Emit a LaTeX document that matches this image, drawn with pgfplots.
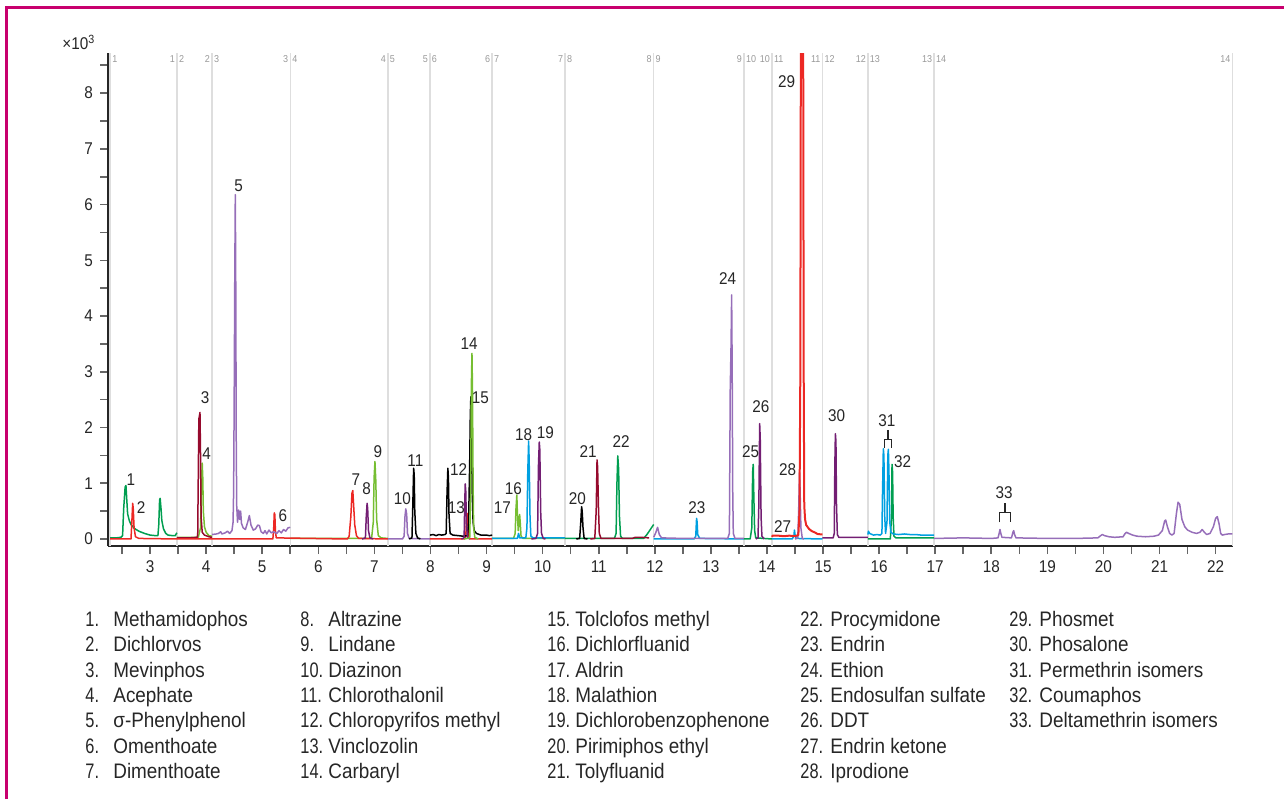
\documentclass[border=0pt]{standalone}
\usepackage{fontspec}
\setmainfont{Liberation Sans}[FakeStretch=0.9]
\newfontfamily\numfont{Liberation Sans}[FakeStretch=0.78]
\usepackage{pgfplots}
\pgfplotsset{compat=1.18}

\definecolor{cgreen}{RGB}{0,158,80}
\definecolor{clgreen}{RGB}{118,190,50}
\definecolor{cred}{RGB}{236,40,36}
\definecolor{cdred}{RGB}{150,10,45}
\definecolor{clpurple}{RGB}{150,110,185}
\definecolor{cdpurple}{RGB}{115,30,115}
\definecolor{ccyan}{RGB}{0,160,225}
\definecolor{cframe}{RGB}{200,0,110}

\begin{document}
\begin{tikzpicture}
\useasboundingbox (0,0) rectangle (642pt,-399.5pt);

\begin{axis}[
  at={(54pt,-273pt)}, anchor=south west,
  scale only axis, width=562.5pt, height=246.5pt,
  xmin=2.25, xmax=22.31, ymin=-0.126, ymax=8.72,
  axis x line*=bottom, axis y line*=left,
  axis line style={line width=0.9pt, black!85, -},
  xtick={3,...,22}, minor xtick={2.5,3.5,...,21.5},
  ytick={0,...,8}, minor ytick={0.5,1.5,...,8.5},
  tick align=outside, major tick length=4pt, minor tick length=4pt,
  tick style={black!60, line width=0.8pt},
  tick label style={font=\fontsize{8.5}{10}\selectfont, text=black!85},
  /pgf/number format/assume math mode=true,
  every axis plot/.append style={line width=0.75pt, line join=round, no marks},
  clip=true,
]
% segment boundaries
\foreach \b in {2.29,3.48,4.105,5.50,7.24,7.99,9.10,10.40,11.98,13.59,14.09,14.99,15.80,16.98,22.30}
  {\edef\tmp{\noexpand\draw[black!13, line width=0.75pt] (axis cs:\b,-0.126) -- (axis cs:\b,8.72);}\tmp}

% segment 1
\addplot[cgreen] coordinates {(2.29,0.02)(2.40,0.02)(2.48,0.03)(2.51,0.06)(2.53,0.55)(2.555,0.93)(2.57,0.96)(2.585,0.70)(2.60,0.45)(2.63,0.33)(2.66,0.26)(2.72,0.19)(2.80,0.14)(2.90,0.10)(3.00,0.07)(3.10,0.06)(3.14,0.06)(3.155,0.25)(3.17,0.70)(3.18,0.73)(3.195,0.55)(3.21,0.33)(3.24,0.18)(3.28,0.10)(3.32,0.07)(3.40,0.06)(3.45,0.06)(3.47,0.10)(3.48,0.11)};
% segment 2
\addplot[clgreen] coordinates {(3.48,0.03)(3.60,0.03)(3.70,0.03)(3.86,0.03)(3.90,0.20)(3.915,0.90)(3.93,1.36)(3.94,1.10)(3.95,0.50)(3.97,0.22)(4.00,0.12)(4.05,0.06)(4.105,0.05)};
\addplot[cdred] coordinates {(3.48,0.02)(3.70,0.02)(3.84,0.03)(3.85,0.08)(3.855,0.65)(3.87,2.15)(3.89,2.27)(3.90,1.50)(3.91,0.40)(3.93,0.12)(3.97,0.07)(4.05,0.04)(4.105,0.03)};
% segment 4 light green
\addplot[clgreen] coordinates {(5.50,0.01)(6.00,0.01)(6.50,0.01)(6.95,0.01)(6.98,0.30)(6.995,1.10)(7.01,1.39)(7.025,1.05)(7.04,0.35)(7.07,0.06)(7.12,0.02)(7.24,0.01)};
% red baseline segments 1-4
\addplot[cred] coordinates {(2.29,0)(2.66,0)(2.675,0.30)(2.69,0.64)(2.70,0.55)(2.715,0.20)(2.74,0.04)(2.80,0.01)(3.50,0)(5.19,0)(5.205,0.20)(5.215,0.47)(5.225,0.44)(5.235,0.15)(5.25,0.02)(6.52,0)(6.55,0.05)(6.58,0.40)(6.60,0.82)(6.615,0.87)(6.63,0.60)(6.65,0.25)(6.68,0.06)(6.72,0.01)(7.24,0)};
% segment 3
\addplot[clpurple] coordinates {(4.105,0.08)(4.18,0.09)(4.22,0.10)(4.26,0.13)(4.28,0.09)(4.34,0.11)(4.38,0.14)(4.42,0.10)(4.46,0.15)(4.48,0.30)(4.49,0.85)(4.50,2.50)(4.51,4.60)(4.52,6.18)(4.53,4.20)(4.535,2.00)(4.545,0.60)(4.56,0.30)(4.58,0.52)(4.60,0.35)(4.615,0.50)(4.63,0.28)(4.66,0.20)(4.70,0.17)(4.74,0.30)(4.77,0.42)(4.80,0.25)(4.84,0.16)(4.88,0.18)(4.92,0.25)(4.95,0.24)(4.98,0.13)(5.02,0.10)(5.05,0.15)(5.08,0.09)(5.12,0.16)(5.16,0.11)(5.20,0.13)(5.26,0.10)(5.30,0.15)(5.34,0.11)(5.38,0.17)(5.42,0.14)(5.46,0.20)(5.50,0.21)};
% segment 4 dark purple
\addplot[cdpurple] coordinates {(6.78,0)(6.84,0.02)(6.855,0.40)(6.87,0.64)(6.88,0.55)(6.895,0.15)(6.92,0.02)(6.98,0)};
% segment 5
\addplot[clpurple] coordinates {(7.24,0)(7.50,0)(7.53,0.05)(7.545,0.40)(7.56,0.54)(7.575,0.45)(7.59,0.10)(7.62,0.01)(7.99,0)};
\addplot[black] coordinates {(7.62,0)(7.67,0.02)(7.685,0.60)(7.70,1.27)(7.71,1.15)(7.72,0.50)(7.74,0.10)(7.77,0.02)(7.82,0)};
% segment 6
\addplot[cred] coordinates {(7.99,0)(8.60,0)(8.63,0.05)(8.645,0.40)(8.655,0.46)(8.665,0.35)(8.68,0.05)(8.70,0)(9.10,0)};
\addplot[black] coordinates {(7.99,0.07)(8.05,0.08)(8.10,0.06)(8.15,0.08)(8.20,0.07)(8.26,0.08)(8.28,0.10)(8.295,0.80)(8.31,1.27)(8.32,1.10)(8.33,0.45)(8.35,0.10)(8.40,0.07)(8.50,0.06)(8.58,0.05)(8.66,0.06)(8.68,0.30)(8.70,1.40)(8.71,2.20)(8.72,2.55)(8.73,2.00)(8.745,0.80)(8.76,0.30)(8.78,0.15)(8.82,0.10)(8.90,0.07)(9.00,0.07)(9.05,0.06)(9.10,0.07)};
\addplot[cdpurple] coordinates {(8.55,0)(8.60,0.02)(8.61,0.60)(8.62,0.99)(8.63,0.85)(8.64,0.30)(8.66,0.03)(8.70,0)};
\addplot[clgreen] coordinates {(8.60,0)(8.70,0.02)(8.715,0.80)(8.73,2.80)(8.74,3.33)(8.75,2.60)(8.76,1.00)(8.77,0.20)(8.79,0.03)(8.85,0)};
% segment 7
\addplot[clgreen] coordinates {(9.10,0.01)(9.48,0.01)(9.51,0.10)(9.525,0.55)(9.54,0.79)(9.55,0.45)(9.565,0.15)(9.58,0.35)(9.59,0.44)(9.60,0.30)(9.615,0.05)(9.65,0.01)(10.40,0.01)};
\addplot[ccyan] coordinates {(9.10,0.01)(9.55,0.01)(9.57,0.10)(9.59,0.02)(9.70,0.02)(9.72,0.20)(9.735,1.20)(9.75,1.76)(9.76,1.40)(9.775,0.40)(9.79,0.05)(9.83,0.02)(10.40,0.02)};
\addplot[cdpurple] coordinates {(9.80,0)(9.88,0.01)(9.91,0.10)(9.925,1.30)(9.94,1.74)(9.95,1.60)(9.965,0.50)(9.98,0.10)(10.01,0.01)(10.05,0)};
% segment 8
\addplot[cgreen] coordinates {(10.40,0.01)(11.28,0.01)(11.31,0.10)(11.325,1.00)(11.34,1.49)(11.355,1.25)(11.37,0.40)(11.39,0.05)(11.42,0.01)(11.80,0.01)(11.86,0.08)(11.92,0.17)(11.98,0.26)};
\addplot[black] coordinates {(10.60,0)(10.66,0.01)(10.68,0.30)(10.695,0.58)(10.705,0.50)(10.72,0.20)(10.74,0.01)(10.80,0)};
\addplot[cdred] coordinates {(10.85,0)(10.93,0.01)(10.955,0.50)(10.97,1.42)(10.98,1.30)(10.995,0.60)(11.01,0.10)(11.04,0.01)(11.60,0.01)(11.65,0.03)(11.75,0.03)(11.90,0.02)};
% segment 9
\addplot[ccyan] coordinates {(11.98,0)(12.70,0)(12.73,0.05)(12.745,0.37)(12.755,0.30)(12.765,0.08)(12.80,0.01)(13.59,0)};
\addplot[clpurple] coordinates {(11.98,0.03)(12.02,0.12)(12.05,0.21)(12.08,0.08)(12.12,0.02)(12.50,0.01)(13.30,0.01)(13.33,0.10)(13.345,2.67)(13.36,3.50)(13.37,4.38)(13.38,3.00)(13.39,0.80)(13.40,0.10)(13.43,0.01)(13.59,0.01)};
% segment 10
\addplot[cgreen] coordinates {(13.59,0)(13.70,0)(13.73,0.20)(13.745,1.20)(13.755,1.34)(13.765,0.80)(13.78,0.15)(13.80,0.02)(14.09,0)};
\addplot[cdpurple] coordinates {(13.80,0)(13.84,0.02)(13.855,0.60)(13.87,2.07)(13.88,1.80)(13.895,0.40)(13.91,0.05)(13.95,0)};
% segment 11
\addplot[ccyan] coordinates {(14.09,0)(14.45,0)(14.48,0.05)(14.49,0.16)(14.50,0.08)(14.52,0.01)(14.99,0)};
\addplot[clpurple] coordinates {(14.50,0)(14.55,0.02)(14.565,0.50)(14.58,1.19)(14.59,0.90)(14.605,0.20)(14.63,0.01)(14.66,0)};
\addplot[cred, line width=1pt] coordinates {(14.09,0.04)(14.10,0.06)(14.20,0.06)(14.30,0.05)(14.40,0.06)(14.50,0.05)(14.56,0.07)(14.58,0.50)(14.595,3.00)(14.605,9.50)(14.625,10.50)(14.645,9.50)(14.655,3.00)(14.665,0.60)(14.68,0.35)(14.70,0.25)(14.75,0.18)(14.80,0.14)(14.85,0.12)(14.90,0.09)(14.99,0.08)};
% segment 12
\addplot[cdpurple] coordinates {(14.99,0.02)(15.10,0.02)(15.18,0.02)(15.20,0.10)(15.21,1.30)(15.22,1.89)(15.23,1.75)(15.24,0.60)(15.255,0.08)(15.28,0.03)(15.50,0.03)(15.80,0.03)};
% segment 13
\addplot[cgreen] coordinates {(15.80,0)(16.20,0)(16.22,0.40)(16.23,1.34)(16.24,1.20)(16.25,0.40)(16.265,0.05)(16.30,0.02)(16.98,0.02)};
\addplot[ccyan] coordinates {(15.80,0.08)(15.81,0.14)(15.83,0.10)(15.90,0.07)(15.96,0.08)(16.02,0.07)(16.05,0.10)(16.06,0.80)(16.075,1.62)(16.085,1.50)(16.10,0.40)(16.115,0.10)(16.14,0.30)(16.155,1.50)(16.165,1.61)(16.175,1.20)(16.19,0.30)(16.21,0.12)(16.25,0.09)(16.35,0.08)(16.45,0.09)(16.55,0.08)(16.65,0.08)(16.75,0.07)(16.85,0.07)(16.98,0.07)};
% segment 14
\addplot[clpurple] coordinates {(16.98,0.01)(17.50,0.02)(18.00,0.01)(18.12,0.02)(18.14,0.10)(18.155,0.17)(18.17,0.10)(18.19,0.03)(18.36,0.02)(18.385,0.12)(18.40,0.15)(18.415,0.08)(18.44,0.02)(19.00,0.01)(19.50,0.01)(19.90,0.02)(19.95,0.06)(19.98,0.08)(20.02,0.06)(20.10,0.04)(20.20,0.03)(20.35,0.04)(20.38,0.09)(20.41,0.12)(20.45,0.10)(20.52,0.07)(20.60,0.05)(20.75,0.04)(20.90,0.05)(20.98,0.07)(21.05,0.15)(21.09,0.32)(21.11,0.34)(21.14,0.22)(21.18,0.10)(21.22,0.07)(21.26,0.10)(21.30,0.45)(21.33,0.66)(21.36,0.62)(21.40,0.35)(21.45,0.22)(21.50,0.16)(21.58,0.12)(21.66,0.10)(21.72,0.12)(21.76,0.17)(21.80,0.12)(21.84,0.08)(21.90,0.10)(21.96,0.22)(22.00,0.37)(22.03,0.40)(22.06,0.28)(22.09,0.10)(22.12,0.07)(22.16,0.08)(22.22,0.09)(22.30,0.09)};

% segment numbers along the top
\begin{scope}[every node/.style={font=\fontsize{5}{6}\selectfont, text=black!40, inner sep=0pt}]
\node[anchor=west] at (axis cs:2.29,8.61) {\,1};
\foreach \b/\l/\r in {3.48/1/2,4.105/2/3,5.50/3/4,7.24/4/5,7.99/5/6,9.10/6/7,10.40/7/8,11.98/8/9,13.59/9/10,14.09/10/11,14.99/11/12,15.80/12/13,16.98/13/14}
  {\edef\tmp{\noexpand\node[anchor=east] at (axis cs:\b,8.61) {\l\noexpand\,};
             \noexpand\node[anchor=west] at (axis cs:\b,8.61) {\noexpand\,\r};}\tmp}
\node[anchor=east] at (axis cs:22.30,8.61) {14\,};
\end{scope}

% peak labels
\begin{scope}[every node/.style={font=\fontsize{8.5}{10}\selectfont, text=black!85, inner sep=0pt}]
\node at (axis cs:2.66,1.06) {1};
\node at (axis cs:2.84,0.57) {2};
\node at (axis cs:3.98,2.54) {3};
\node at (axis cs:4.01,1.54) {4};
\node at (axis cs:4.58,6.33) {5};
\node at (axis cs:5.37,0.41) {6};
\node at (axis cs:6.67,1.06) {7};
\node at (axis cs:6.86,0.90) {8};
\node at (axis cs:7.06,1.56) {9};
\node at (axis cs:7.50,0.73) {10};
\node at (axis cs:7.73,1.40) {11};
\node at (axis cs:8.50,1.24) {12};
\node at (axis cs:8.46,0.56) {13};
\node at (axis cs:8.69,3.51) {14};
\node at (axis cs:8.89,2.54) {15};
\node at (axis cs:9.48,0.91) {16};
\node at (axis cs:9.28,0.56) {17};
\node at (axis cs:9.66,1.88) {18};
\node at (axis cs:10.05,1.90) {19};
\node at (axis cs:10.62,0.73) {20};
\node at (axis cs:10.81,1.56) {21};
\node at (axis cs:11.40,1.74) {22};
\node at (axis cs:12.75,0.56) {23};
\node at (axis cs:13.30,4.68) {24};
\node at (axis cs:13.71,1.56) {25};
\node at (axis cs:13.89,2.38) {26};
\node at (axis cs:14.28,0.23) {27};
\node at (axis cs:14.37,1.24) {28};
\node at (axis cs:14.35,8.21) {29};
\node at (axis cs:15.24,2.22) {30};
\node at (axis cs:16.14,2.13) {31};
\node at (axis cs:16.42,1.38) {32};
\node at (axis cs:18.23,0.83) {33};
\end{scope}
% brackets for isomer groups
\draw[black!85, line width=0.6pt] (axis cs:16.10,1.63) -- (axis cs:16.10,1.79) -- (axis cs:16.22,1.79) -- (axis cs:16.22,1.63);
\draw[black!85, line width=0.9pt] (axis cs:16.16,1.79) -- (axis cs:16.16,1.95);
\draw[black!85, line width=0.6pt] (axis cs:18.14,0.30) -- (axis cs:18.14,0.47) -- (axis cs:18.34,0.47) -- (axis cs:18.34,0.30);
\draw[black!85, line width=0.9pt] (axis cs:18.24,0.47) -- (axis cs:18.24,0.64);
\end{axis}

% everything else in pixel units of the reference
\begin{scope}[x=0.5pt, y=-0.5pt]
\draw[cframe, line width=1.5pt] (6.5,799) -- (6.5,7.5) -- (1284,7.5);
\node[anchor=base west, inner sep=0pt, font=\fontsize{8.5}{10}\selectfont, text=black!85] at (62,49) {×10\textsuperscript{3}};

\begin{scope}[every node/.style={anchor=base west, inner sep=0pt, font=\fontsize{10.5}{12}\selectfont, text=black!85}]
\foreach \n/\t [count=\i from 0] in {1/Methamidophos,2/Dichlorvos,3/Mevinphos,4/Acephate,5/σ-Phenylphenol,6/Omenthoate,7/Dimenthoate}
  {\node at (85,626.5+25.3*\i) {\numfont\n.}; \node at (113,626.5+25.3*\i) {\t};}
\foreach \n/\t [count=\i from 0] in {8/Altrazine,9/Lindane,10/Diazinon,11/Chlorothalonil,12/Chloropyrifos methyl,13/Vinclozolin,14/Carbaryl}
  {\node at (300,626.5+25.3*\i) {\numfont\n.}; \node at (328,626.5+25.3*\i) {\t};}
\foreach \n/\t [count=\i from 0] in {15/Tolclofos methyl,16/Dichlorfluanid,17/Aldrin,18/Malathion,19/Dichlorobenzophenone,20/Pirimiphos ethyl,21/Tolyfluanid}
  {\node at (547,626.5+25.3*\i) {\numfont\n.}; \node at (575,626.5+25.3*\i) {\t};}
\foreach \n/\t [count=\i from 0] in {22/Procymidone,23/Endrin,24/Ethion,25/Endosulfan sulfate,26/DDT,27/Endrin ketone,28/Iprodione}
  {\node at (800,626.5+25.3*\i) {\numfont\n.}; \node at (830,626.5+25.3*\i) {\t};}
\foreach \n/\t [count=\i from 0] in {29/Phosmet,30/Phosalone,31/Permethrin isomers,32/Coumaphos,33/Deltamethrin isomers}
  {\node at (1009,626.5+25.3*\i) {\numfont\n.}; \node at (1039,626.5+25.3*\i) {\t};}
\end{scope}
\end{scope}
\end{tikzpicture}
\end{document}
